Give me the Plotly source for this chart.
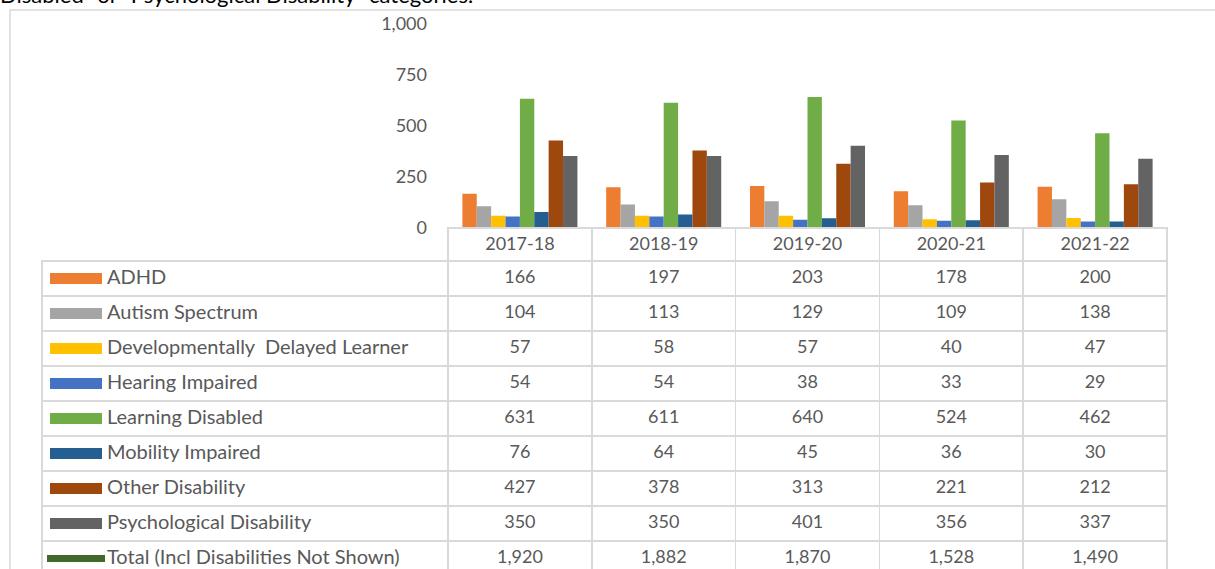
import plotly.graph_objects as go

# data
years = ["2017-18", "2018-19", "2019-20", "2020-21", "2021-22"]
adhd = [166, 197, 203, 178, 200]
autism = [104, 113, 129, 109, 138]
dev_delayed = [57, 58, 57, 40, 47]
hearing = [54, 54, 38, 33, 29]
learning = [631, 611, 640, 524, 462]
mobility = [76, 64, 45, 36, 30]
other = [427, 378, 313, 221, 212]
psych = [350, 350, 401, 356, 337]
total = [1920, 1882, 1870, 1528, 1490]

series_names = ["ADHD", "Autism Spectrum", "Developmentally  Delayed Learner",
                "Hearing Impaired", "Learning Disabled", "Mobility Impaired",
                "Other Disability", "Psychological Disability"]
series_vals = [adhd, autism, dev_delayed, hearing, learning, mobility, other, psych]
colors = ["#ED7D31", "#A5A5A5", "#FFC000", "#4472C4", "#70AD47", "#255E91",
          "#9E480E", "#636363"]
total_name = "Total (Incl Disabilities Not Shown)"
total_color = "#43682B"

W, H = 1215, 569
FONT = "Lato"
TXT = "#595959"
GRID = "#D9D9D9"

def px_x(p):
    return p / W

def px_y(p):
    return 1 - p / H

fig = go.Figure()

for name, vals, c in zip(series_names, series_vals, colors):
    fig.add_trace(go.Bar(x=years, y=vals, name=name, marker=dict(color=c, line=dict(width=0)),
                         showlegend=False))
# total line sits above the axis range (clipped like in the original)
fig.add_trace(go.Scatter(x=years, y=total, name=total_name, mode="lines",
                         line=dict(color=total_color, width=4), showlegend=False))

# data table under the chart; first column left empty, the legend keys go there
row_names = series_names + [total_name]
cols = [[""] * len(row_names)]
for j in range(len(years)):
    col = ["{:,}".format(v[j]) for v in series_vals]
    col.append("{:,}".format(total[j]))
    cols.append(col)

clear = "rgba(0,0,0,0)"
fig.add_trace(go.Table(
    domain=dict(x=[px_x(42), px_x(1167)], y=[0, px_y(228)]),
    columnwidth=[406] + [143.8] * 5,
    header=dict(values=[""] + years, height=33,
                fill=dict(color=[clear] + ["white"] * 5),
                line=dict(color=[clear] + [GRID] * 5, width=1.5),
                font=dict(family=FONT, size=18, color=TXT),
                align="center"),
    cells=dict(values=cols, height=35,
               fill=dict(color=[clear] + ["white"] * 5),
               line=dict(color=GRID, width=1.5),
               font=dict(family=FONT, size=18, color=TXT),
               align="center"),
))

# legend keys in the table's first column (axis units = pixels across the column, rows)
# line-ew markers are 1.4 x size long
key_colors = colors + [total_color]
key_sizes = [52 / 1.4] * 8 + [58 / 1.4]
key_widths = [11] * 8 + [7]
fig.add_trace(go.Scatter(
    x=[34] * len(row_names), y=row_names, xaxis="x3", yaxis="y3",
    mode="markers", hoverinfo="skip", showlegend=False,
    marker=dict(symbol="line-ew", size=key_sizes, color=key_colors, opacity=1,
                line=dict(color=key_colors, width=key_widths)),
))
fig.add_trace(go.Scatter(
    x=[65] * len(row_names), y=row_names, xaxis="x3", yaxis="y3",
    mode="text", text=[n.replace(" ", "\u00a0") for n in row_names],
    textposition="middle right", hoverinfo="skip", showlegend=False,
    textfont=dict(family=FONT, size=20, color=TXT),
))

# chart frame
fig.add_shape(type="rect", xref="paper", yref="paper",
              x0=px_x(10), x1=1.02, y0=-0.05, y1=px_y(10),
              line=dict(color=GRID, width=1.5), layer="below")

# text of the document above the chart (cut off)
fig.add_annotation(xref="paper", yref="paper", x=px_x(-2), y=px_y(10),
                   xanchor="left", yanchor="bottom", showarrow=False,
                   text="Disabled\u201d or \u201cPsychological Disability\u201d categories.",
                   font=dict(family=FONT, size=22, color="black"))

hidden = dict(visible=False, showgrid=False, zeroline=False, automargin=False)
fig.update_layout(
    width=W, height=H,
    margin=dict(l=0, r=0, t=0, b=0),
    paper_bgcolor="white", plot_bgcolor="rgba(0,0,0,0)",
    barmode="group", bargap=0.2, bargroupgap=0,
    xaxis=dict(domain=[px_x(448), px_x(1167)], showticklabels=False, showgrid=False,
               zeroline=False, showline=False, ticks="", automargin=False),
    yaxis=dict(domain=[px_y(227.5), px_y(23.5)], range=[0, 1000], tickvals=[0, 250, 500, 750, 1000],
               tickformat=",d", showgrid=False, zeroline=False, showline=False, ticks="",
               ticklabelstandoff=20, automargin=False,
               tickfont=dict(family=FONT, size=18, color=TXT)),
    xaxis3=dict(domain=[px_x(42), px_x(448)], range=[0, 406], anchor="y3", **hidden),
    yaxis3=dict(domain=[0, px_y(261)], range=[-0.5 + (569 - 261) / 35, -0.5], anchor="x3",
                type="category", categoryorder="array", categoryarray=row_names, **hidden),
)

fig.write_html("out.html", config={"displayModeBar": False},
               post_script="document.body.style.margin='0';")
